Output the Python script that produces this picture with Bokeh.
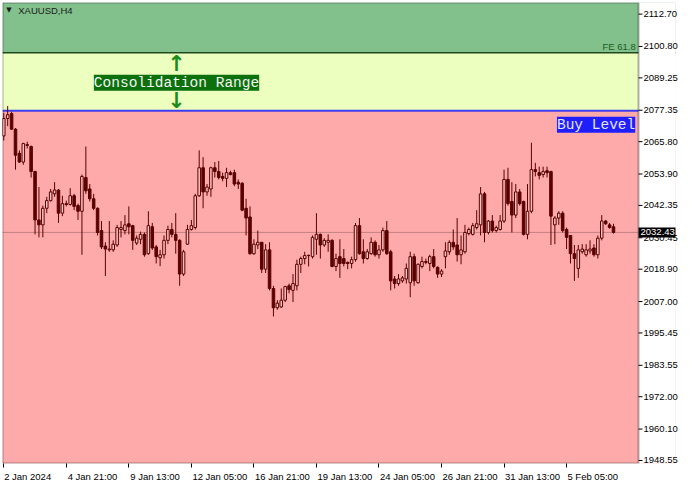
from bokeh.plotting import figure
from bokeh.models import (Range1d, BoxAnnotation, Span, Label, FixedTicker,
                          NumeralTickFormatter, ColumnDataSource)
from bokeh.embed import file_html
from bokeh.resources import INLINE

# ---------------- data (XAUUSD H4 candles) ----------------
opens = [2067.9, 2074.3, 2076.1, 2070.4, 2061.5, 2058.3, 2064.7, 2064.0, 2054.8, 2037.0,
         2035.2, 2041.3, 2044.1, 2046.6, 2048.0, 2039.5, 2043.0, 2042.7, 2045.9, 2042.3,
         2040.2, 2052.6, 2048.4, 2044.8, 2041.3, 2033.1, 2027.4, 2026.0, 2026.0, 2027.8,
         2033.5, 2033.1, 2035.6, 2034.9, 2028.5, 2029.9, 2031.7, 2024.6, 2034.5, 2027.1,
         2023.1, 2024.2, 2029.5, 2033.5, 2031.7, 2029.5, 2017.1, 2028.1, 2033.5, 2034.2,
         2045.9, 2056.2, 2047.3, 2048.4, 2056.2, 2054.8, 2053.0, 2052.3, 2054.4, 2054.4,
         2050.9, 2050.5, 2041.3, 2038.1, 2024.6, 2027.8, 2028.8, 2018.9, 2026.0, 2011.8,
         2004.7, 2005.0, 2007.5, 2012.8, 2011.1, 2012.8, 2020.7, 2022.8, 2023.9, 2023.5,
         2029.9, 2031.7, 2027.8, 2028.8, 2029.5, 2019.9, 2023.5, 2022.8, 2021.4, 2021.0,
         2022.4, 2034.9, 2025.3, 2022.8, 2024.6, 2028.8, 2024.2, 2026.0, 2033.1, 2025.3,
         2015.3, 2013.6, 2014.6, 2015.3, 2013.9, 2023.5, 2013.9, 2019.9, 2021.7, 2021.0,
         2023.5, 2019.6, 2017.1, 2023.5, 2025.3, 2028.8, 2027.8, 2024.2, 2025.3, 2032.0,
         2031.7, 2034.2, 2035.2, 2046.6, 2032.4, 2036.6, 2033.1, 2033.5, 2036.6, 2051.9,
         2043.8, 2038.8, 2047.3, 2043.8, 2031.7, 2040.2, 2055.5, 2054.4, 2053.7, 2055.1,
         2054.8, 2035.2, 2037.7, 2039.5, 2033.5, 2031.3, 2024.6, 2019.2, 2025.3, 2024.2,
         2025.6, 2026.7, 2024.2, 2030.3, 2036.6, 2035.2, 2034.5]
highs = [2076.4, 2078.9, 2076.8, 2070.8, 2062.6, 2065.4, 2065.8, 2064.4, 2055.1, 2049.1,
         2042.3, 2045.5, 2048.4, 2050.9, 2048.4, 2045.9, 2044.1, 2048.7, 2046.6, 2043.0,
         2053.7, 2064.0, 2050.2, 2046.6, 2041.6, 2036.6, 2028.8, 2036.6, 2029.5, 2035.2,
         2036.6, 2038.8, 2042.0, 2035.2, 2031.3, 2032.7, 2032.4, 2040.2, 2035.9, 2027.8,
         2026.0, 2031.3, 2034.9, 2035.9, 2039.5, 2029.9, 2026.0, 2035.2, 2037.0, 2046.6,
         2062.6, 2060.1, 2050.2, 2056.6, 2058.3, 2058.7, 2054.4, 2056.2, 2055.1, 2055.5,
         2051.9, 2050.9, 2044.8, 2042.0, 2029.9, 2033.1, 2028.8, 2028.1, 2028.8, 2012.8,
         2007.5, 2011.8, 2012.8, 2013.6, 2017.1, 2022.4, 2023.5, 2025.3, 2024.2, 2031.3,
         2039.5, 2032.0, 2030.3, 2031.7, 2029.9, 2024.6, 2029.9, 2026.3, 2021.7, 2023.5,
         2035.9, 2037.7, 2029.9, 2026.3, 2030.6, 2029.5, 2027.8, 2034.2, 2036.6, 2026.0,
         2016.4, 2017.1, 2016.4, 2021.0, 2025.3, 2024.6, 2021.0, 2023.5, 2022.8, 2024.2,
         2026.3, 2019.9, 2018.9, 2028.8, 2029.5, 2033.5, 2037.7, 2031.3, 2035.2, 2034.2,
         2035.9, 2040.6, 2049.1, 2047.3, 2037.0, 2038.8, 2034.9, 2038.8, 2055.5, 2056.2,
         2050.9, 2050.2, 2048.4, 2044.1, 2050.2, 2065.4, 2058.0, 2056.6, 2056.6, 2056.6,
         2055.1, 2038.4, 2040.2, 2040.2, 2034.2, 2031.3, 2027.8, 2027.8, 2028.1, 2028.1,
         2029.5, 2028.1, 2031.3, 2038.8, 2037.0, 2035.9, 2035.6]
lows = [2066.2, 2071.5, 2070.1, 2055.5, 2058.0, 2057.3, 2063.3, 2052.6, 2031.7, 2030.6,
        2030.6, 2039.5, 2043.8, 2045.5, 2035.9, 2038.4, 2042.0, 2042.3, 2040.6, 2037.0,
        2024.2, 2046.6, 2043.8, 2040.6, 2031.3, 2026.3, 2016.4, 2025.3, 2025.3, 2027.1,
        2030.6, 2031.7, 2031.7, 2026.0, 2027.8, 2028.1, 2023.5, 2024.2, 2026.0, 2021.0,
        2020.0, 2022.8, 2028.1, 2030.6, 2024.6, 2012.8, 2016.4, 2027.8, 2033.1, 2033.5,
        2045.5, 2041.3, 2045.9, 2045.5, 2052.6, 2051.9, 2051.2, 2049.1, 2053.4, 2049.4,
        2048.4, 2040.2, 2031.3, 2024.2, 2024.2, 2026.3, 2017.5, 2017.5, 2011.1, 2001.5,
        2004.0, 2004.7, 2006.8, 2010.0, 2006.8, 2011.1, 2017.5, 2020.7, 2019.9, 2022.8,
        2024.2, 2022.8, 2027.1, 2025.3, 2019.6, 2018.2, 2015.7, 2019.9, 2018.9, 2019.2,
        2021.7, 2024.2, 2021.0, 2022.4, 2024.2, 2023.5, 2022.8, 2025.3, 2024.2, 2011.1,
        2011.8, 2012.8, 2013.9, 2013.6, 2008.6, 2012.8, 2013.6, 2019.2, 2020.7, 2018.2,
        2019.2, 2015.7, 2016.0, 2019.2, 2024.2, 2026.0, 2021.7, 2020.7, 2024.6, 2031.3,
        2031.3, 2033.5, 2031.3, 2028.8, 2031.7, 2032.4, 2032.4, 2033.1, 2035.9, 2042.3,
        2032.4, 2037.7, 2042.3, 2031.3, 2029.9, 2039.5, 2053.0, 2051.9, 2052.6, 2052.6,
        2027.8, 2028.1, 2035.2, 2032.4, 2026.3, 2021.0, 2014.6, 2015.7, 2024.6, 2023.5,
        2024.6, 2023.5, 2022.8, 2029.5, 2035.2, 2033.8, 2032.0]
closes = [2074.3, 2075.7, 2070.4, 2060.8, 2058.3, 2065.1, 2064.4, 2054.8, 2037.0, 2035.2,
          2041.3, 2044.1, 2047.3, 2048.0, 2039.5, 2043.0, 2042.7, 2045.9, 2042.0, 2040.2,
          2053.0, 2047.7, 2044.8, 2041.3, 2032.4, 2027.1, 2026.3, 2026.3, 2028.1, 2034.2,
          2034.2, 2035.2, 2034.5, 2029.5, 2030.3, 2031.7, 2024.2, 2034.9, 2026.7, 2023.5,
          2024.2, 2029.5, 2033.5, 2031.7, 2029.5, 2017.1, 2025.3, 2033.5, 2034.9, 2045.9,
          2056.2, 2047.3, 2049.1, 2056.2, 2054.8, 2052.6, 2052.3, 2054.4, 2053.7, 2050.2,
          2050.2, 2040.6, 2037.7, 2024.6, 2028.1, 2028.8, 2018.9, 2026.0, 2011.8, 2004.7,
          2006.4, 2007.5, 2012.5, 2011.4, 2013.6, 2020.7, 2022.8, 2023.9, 2024.0, 2030.6,
          2031.7, 2027.8, 2029.5, 2029.5, 2019.9, 2022.8, 2021.0, 2021.0, 2021.0, 2022.4,
          2034.9, 2024.6, 2022.8, 2025.3, 2028.8, 2024.2, 2026.0, 2033.1, 2024.6, 2014.6,
          2013.6, 2015.3, 2015.7, 2019.2, 2023.5, 2014.6, 2020.7, 2021.7, 2021.4, 2023.5,
          2019.9, 2017.1, 2018.2, 2025.6, 2028.8, 2027.1, 2024.2, 2026.0, 2032.4, 2033.5,
          2034.9, 2035.6, 2046.6, 2032.4, 2036.6, 2033.1, 2034.2, 2036.6, 2051.9, 2043.0,
          2038.8, 2047.3, 2043.0, 2031.7, 2040.2, 2055.5, 2054.8, 2053.4, 2054.8, 2054.4,
          2038.4, 2037.7, 2039.5, 2033.1, 2030.6, 2024.6, 2022.8, 2026.0, 2026.3, 2026.0,
          2026.3, 2024.2, 2030.3, 2036.6, 2035.6, 2034.2, 2032.43]

time_tick_bars = [0, 16, 32, 48, 64, 80, 96, 112, 128, 144]
time_tick_labels = ["2 Jan 2024", "4 Jan 21:00", "9 Jan 13:00", "12 Jan 05:00",
                    "16 Jan 21:00", "19 Jan 13:00", "24 Jan 05:00", "26 Jan 21:00",
                    "31 Jan 13:00", "5 Feb 05:00"]
price_ticks = [2112.70, 2100.80, 2089.25, 2077.35, 2065.80, 2053.90, 2042.35, 2030.45,
               2018.90, 2007.00, 1995.45, 1983.55, 1972.00, 1960.10, 1948.55]

symbol = "XAUUSD,H4"
fe_level = 2098.5        # FE 61.8 line (top of consolidation range)
buy_level = 2077.2       # Buy Level line (bottom of consolidation range)
last_price = 2032.43

# ---------------- styling / layout ----------------
GREEN_BG = "#82c08c"
YELLOW_BG = "#ecffbe"
PINK_BG = "#ffaaaa"
CANDLE = "#5a0000"
UP_FILL = "#ffc4c4"
AX_FONT = "Liberation Sans"
AX_SIZE = "9.5px"

W, H = 684, 484
BORDER_L, BORDER_R, BORDER_T, BORDER_B = 2, 9, 2, 20
CHART_PX = 636                      # width of the candle area inside the frame
x_start, x_vis_end = -0.325, 162.4  # visible candle area (bar index units)
px_per_bar = CHART_PX / (x_vis_end - x_start)
frame_px = W - BORDER_L - BORDER_R
x_frame_end = x_start + frame_px / px_per_bar
strip_px = frame_px - CHART_PX      # price-scale strip kept inside the frame
y_start, y_end = 1947.44, 2116.97

p = figure(width=W, height=H, output_backend="svg", toolbar_location=None,
           x_range=Range1d(x_start, x_frame_end), y_range=Range1d(y_start, y_end),
           y_axis_location="right",
           min_border_left=BORDER_L, min_border_top=BORDER_T,
           min_border_bottom=BORDER_B, min_border_right=BORDER_R)
p.background_fill_color = "white"
p.border_fill_color = "white"
p.outline_line_color = None
p.grid.visible = False

# y axis (price scale): labels pulled into the strip next to the chart edge
yax = p.yaxis[0]
yax.ticker = FixedTicker(ticks=price_ticks)
yax.formatter = NumeralTickFormatter(format="0.00")
yax.major_tick_in = 0
yax.major_tick_out = 0
yax.minor_tick_in = 0
yax.minor_tick_out = 0
yax.major_tick_line_color = None
yax.minor_tick_line_color = None
yax.axis_line_color = None
yax.major_label_standoff = -(strip_px - 5)
yax.major_label_text_font = AX_FONT
yax.major_label_text_font_size = AX_SIZE
yax.major_label_text_color = "black"

# x axis: short ticks at the bar positions, labels starting at each tick
def label_center(bar, text):
    return bar + (len(text) * 4.58 / 2 + 1.0) / px_per_bar

centers = [label_center(b, t) for b, t in zip(time_tick_bars, time_tick_labels)]
xax = p.xaxis[0]
xax.ticker = FixedTicker(ticks=centers, minor_ticks=time_tick_bars)
xax.major_label_overrides = {c: t for c, t in zip(centers, time_tick_labels)}
xax.major_tick_in = 0
xax.major_tick_out = 0
xax.major_tick_line_color = None
xax.minor_tick_in = 0
xax.minor_tick_out = 4
xax.minor_tick_line_color = "black"
xax.axis_line_color = None
xax.major_label_standoff = 3
xax.major_label_text_font = AX_FONT
xax.major_label_text_font_size = AX_SIZE
xax.major_label_text_color = "black"

# background zones
p.add_layout(BoxAnnotation(bottom=fe_level, fill_color=GREEN_BG, fill_alpha=1,
                           line_color=None, level="underlay"))
p.add_layout(BoxAnnotation(bottom=buy_level, top=fe_level, fill_color=YELLOW_BG,
                           fill_alpha=1, line_color=None, level="underlay"))
p.add_layout(BoxAnnotation(top=buy_level, fill_color=PINK_BG, fill_alpha=1,
                           line_color=None, level="underlay"))
p.add_layout(Span(location=fe_level, dimension="width", line_color="#1e4a1e",
                  line_width=1.5, level="underlay"))
p.add_layout(Span(location=buy_level, dimension="width", line_color="#3c3cf0",
                  line_width=2, level="underlay"))
p.add_layout(Span(location=last_price, dimension="width", line_color="#c08080",
                  line_width=1, level="underlay"))
# white price-scale strip
p.add_layout(BoxAnnotation(left=x_vis_end, fill_color="white", fill_alpha=1,
                           line_color=None, level="underlay"))

# price-scale tick marks
tick_len = 4 / px_per_bar
p.segment(x0=[x_vis_end] * len(price_ticks), y0=price_ticks,
          x1=[x_vis_end + tick_len] * len(price_ticks), y1=price_ticks,
          line_color="black", line_width=1)

# candles
idx = list(range(len(opens)))
up = [i for i in idx if closes[i] >= opens[i]]
dn = [i for i in idx if closes[i] < opens[i]]
wick_src = ColumnDataSource(dict(x=idx, hi=highs, lo=lows))
up_src = ColumnDataSource(dict(x=up, top=[closes[i] for i in up], bot=[opens[i] for i in up]))
dn_src = ColumnDataSource(dict(x=dn, top=[opens[i] for i in dn], bot=[closes[i] for i in dn]))
p.segment(x0="x", y0="hi", x1="x", y1="lo", source=wick_src, line_color=CANDLE, line_width=1)
p.vbar(x="x", top="top", bottom="bot", width=0.65, source=up_src,
       fill_color=UP_FILL, line_color=CANDLE, line_width=1)
p.vbar(x="x", top="top", bottom="bot", width=0.65, source=dn_src,
       fill_color=CANDLE, line_color=CANDLE, line_width=1)

# chart frame
p.add_layout(BoxAnnotation(right=x_vis_end, fill_color=None, line_color="black",
                           line_width=2, level="overlay"))

# texts
p.add_layout(Label(x=1.3, y=2114.1, text="▼", text_align="center", text_baseline="middle",
                   text_font="DejaVu Sans", text_font_size="7px", text_color="#1c1c1c"))
p.add_layout(Label(x=3.7, y=2114.1, text=symbol, text_align="left", text_baseline="middle",
                   text_font=AX_FONT, text_font_size=AX_SIZE, text_color="#1c1c1c"))
p.add_layout(Label(x=161.7, y=fe_level, y_offset=1, text="FE 61.8", text_align="right",
                   text_baseline="bottom", text_font=AX_FONT, text_font_size=AX_SIZE,
                   text_color="#1a5c1a"))
p.add_layout(Label(x=44.2, y=2094.6, text="↑", text_align="center", text_baseline="middle",
                   text_font="DejaVu Sans", text_font_size="22px", text_font_style="bold",
                   text_color="#1a8c1a"))
p.add_layout(Label(x=44.2, y=2081.1, text="↓", text_align="center", text_baseline="middle",
                   text_font="DejaVu Sans", text_font_size="22px", text_font_style="bold",
                   text_color="#1a8c1a"))
p.add_layout(Label(x=44.2, y=2087.5, text="Consolidation Range", text_align="center",
                   text_baseline="middle", text_font="Liberation Mono", text_font_size="14.5px",
                   text_color="#f4f4f4", background_fill_color="#0c700c", background_fill_alpha=1))
p.add_layout(Label(x=151.55, y=2072.0, text="Buy Level", text_align="center",
                   text_baseline="middle", text_font="Liberation Mono", text_font_size="14.5px",
                   text_color="#e6e6ff", background_fill_color="#1e1eff", background_fill_alpha=1))
p.add_layout(Label(x=x_vis_end, y=last_price, x_offset=0, text=f"{last_price:.2f}",
                   text_align="left", text_baseline="middle", text_font=AX_FONT,
                   text_font_size=AX_SIZE, text_color="white", padding=2,
                   background_fill_color="black", background_fill_alpha=1))

open("out.html", "w").write(file_html(p, INLINE))
